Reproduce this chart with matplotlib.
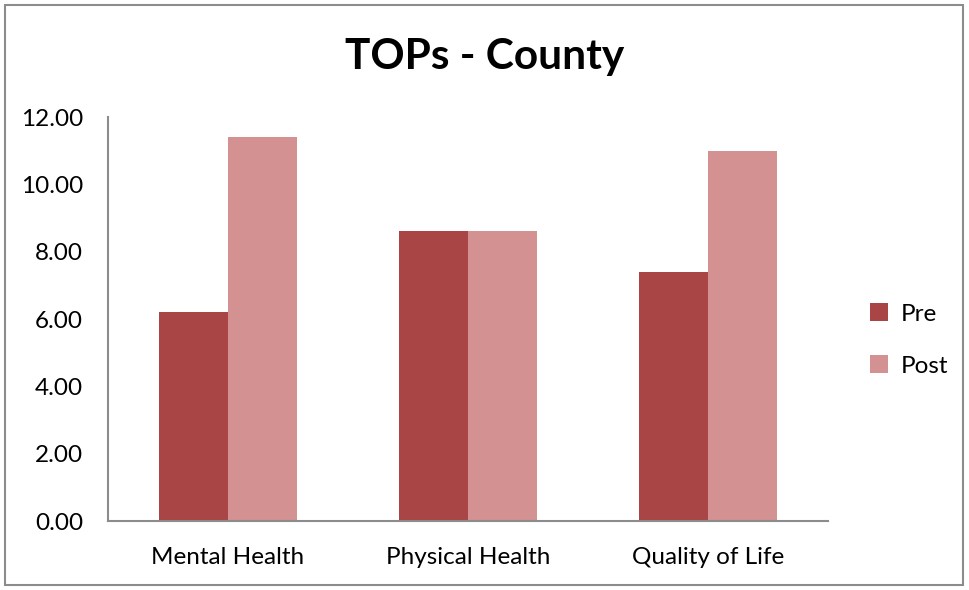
import matplotlib.pyplot as plt
import numpy as np
from matplotlib.patches import Rectangle

plt.rcParams['font.family'] = ['Lato', 'DejaVu Sans']

categories = ['Mental Health', 'Physical Health', 'Quality of Life']
pre = [6.2, 8.6, 7.4]
post = [11.4, 8.6, 11.0]
yticks = [0, 2, 4, 6, 8, 10, 12]

pre_color = '#A94545'
post_color = '#D39291'
axis_gray = '#8C8C8C'

fig = plt.figure(figsize=(9.69, 5.90), dpi=100)
ax = fig.add_axes([108 / 969, 69 / 590, 720 / 969, 404 / 590])

x = np.arange(len(categories))
w = 0.2875
ax.bar(x - w / 2, pre, width=w, color=pre_color, label='Pre')
ax.bar(x + w / 2, post, width=w, color=post_color, label='Post')

ax.set_xlim(-0.5, 2.5)
ax.set_ylim(0, 12)
ax.set_yticks(yticks)
ax.set_yticklabels([f'{v:.2f}' for v in yticks])
ax.set_xticks(x)
ax.set_xticklabels(categories)
ax.tick_params(length=0, labelsize=17.5, colors='black')
ax.tick_params(axis='x', pad=19)
ax.tick_params(axis='y', pad=18)

for s in ['top', 'right']:
    ax.spines[s].set_visible(False)
for s in ['left', 'bottom']:
    ax.spines[s].set_color(axis_gray)
    ax.spines[s].set_linewidth(1.5)

fig.text(485 / 969, 1 - 57 / 590, 'TOPs - County', ha='center', va='center',
         fontsize=30.5, fontweight='bold')

ax.legend(loc='center left', bbox_to_anchor=(1.028, 0.448), frameon=False,
          fontsize=17.5, handlelength=0.75, handleheight=0.75, labelspacing=1.25,
          handletextpad=0.5)

fig.patches.append(Rectangle((5 / 969, 5 / 590), 958 / 969, 580 / 590,
                             transform=fig.transFigure, fill=False,
                             edgecolor=axis_gray, linewidth=1.5))

fig.savefig('out.png', dpi=100)
